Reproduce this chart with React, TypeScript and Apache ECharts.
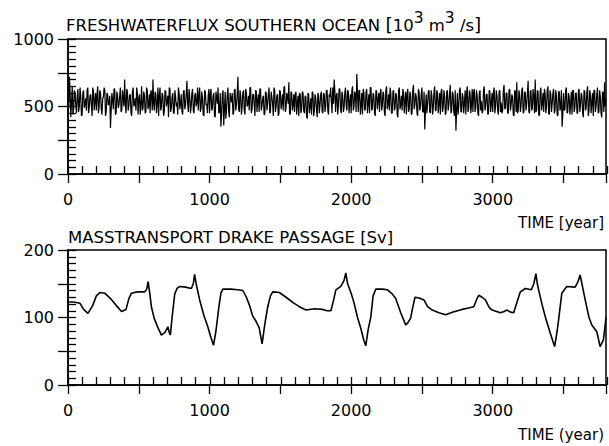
import React, { useEffect, useRef } from "react";
import * as echarts from "echarts";

// ---- Data ----
const topTitle = "FRESHWATERFLUX SOUTHERN OCEAN";
const bottomTitle = "MASSTRANSPORT DRAKE PASSAGE [Sv]";
const xLabelTop = "TIME [year]";
const xLabelBottom = "TIME (year)";

const xMin = 0;
const xMax = 3800;

// Freshwater flux: values at years 0,10,20,... and at 5,15,25,...
const freshStep = 10;
const freshValues = [
  560, 720, 420, 650, 480, 600, 450, 630, 500, 580, 440, 620, 520, 470, 640, 490, 590, 430, 610, 540,
  470, 650, 500, 600, 440, 570, 620, 460, 590, 520, 340, 600, 480, 630, 450, 580, 510, 640, 470, 560,
  700, 450, 610, 500, 590, 430, 640, 520, 470, 600, 560, 440, 650, 490, 580, 460, 620, 510, 450, 600,
  700, 470, 590, 520, 430, 640, 500, 580, 460, 610, 540, 420, 630, 490, 600, 450, 570, 530, 640, 480,
  590, 440, 620, 510, 690, 460, 580, 500, 630, 450, 600, 530, 470, 640, 490, 560, 430, 610, 520, 580,
  450, 630, 490, 600, 420, 570, 640, 460, 350, 590, 360, 610, 480, 640, 420, 560, 600, 450, 630, 510,
  720, 460, 580, 500, 620, 440, 600, 520, 470, 640, 480, 590, 430, 610, 550, 460, 630, 500, 580, 440,
  600, 520, 640, 460, 570, 430, 620, 500, 590, 450, 610, 530, 470, 650, 490, 580, 680, 440, 600, 510,
  460, 610, 520, 430, 590, 480, 600, 450, 570, 410, 590, 500, 440, 600, 470, 560, 420, 580, 510, 610,
  450, 590, 500, 620, 440, 570, 530, 640, 700, 460, 600, 510, 630, 450, 580, 490, 640, 470, 610, 530,
  450, 650, 500, 590, 740, 460, 620, 510, 440, 600, 480, 630, 520, 450, 640, 490, 580, 430, 610, 550,
  460, 630, 500, 590, 430, 650, 520, 470, 600, 450, 620, 490, 580, 420, 640, 510, 470, 600, 540, 440,
  630, 480, 590, 450, 660, 510, 570, 430, 610, 500, 640, 460, 330, 590, 520, 620, 450, 580, 490, 650,
  470, 600, 520, 440, 630, 490, 580, 450, 620, 510, 660, 470, 590, 430, 320, 600, 500, 640, 460, 570,
  520, 440, 650, 480, 600, 510, 460, 630, 490, 580, 430, 620, 540, 470, 650, 500, 590, 450, 610, 520,
  460, 640, 500, 580, 440, 620, 530, 470, 660, 490, 600, 450, 630, 510, 570, 430, 610, 680, 470, 590,
  500, 640, 460, 600, 520, 690, 450, 620, 490, 580, 700, 470, 610, 430, 640, 520, 460, 600, 500, 650,
  440, 590, 520, 630, 470, 580, 430, 610, 500, 350, 600, 480, 640, 460, 570, 520, 440, 620, 490, 600,
  450, 630, 510, 580, 420, 610, 490, 650, 470, 590, 530, 430, 620, 500, 640, 460, 570, 420, 600, 680,
  560,
];
const freshValuesMid = [
  480, 600, 530, 440, 620, 510, 570, 460, 640, 430, 600, 490, 560, 620, 450, 580, 510, 640, 470, 600,
  590, 450, 620, 480, 560, 640, 430, 600, 510, 580, 470, 550, 630, 440, 610, 490, 580, 460, 620, 500,
  520, 630, 470, 580, 450, 610, 500, 560, 640, 440, 590, 520, 470, 610, 450, 640, 480, 590, 620, 470,
  520, 610, 450, 640, 580, 470, 600, 430, 620, 500, 580, 640, 460, 570, 450, 620, 500, 440, 600, 520,
  460, 610, 480, 590, 520, 630, 450, 600, 470, 580, 500, 640, 590, 460, 610, 440, 620, 510, 450, 630,
  600, 470, 580, 430, 610, 520, 450, 600, 440, 620, 480, 410, 590, 460, 600, 530, 440, 620, 470, 590,
  480, 620, 440, 600, 470, 630, 500, 580, 640, 450, 590, 520, 620, 460, 590, 630, 470, 560, 440, 610,
  470, 590, 450, 610, 520, 640, 460, 580, 430, 620, 480, 590, 640, 460, 600, 520, 450, 610, 470, 590,
  590, 440, 580, 600, 450, 610, 470, 580, 430, 600, 450, 560, 610, 430, 590, 480, 600, 450, 590, 460,
  600, 460, 620, 470, 590, 640, 450, 520, 610, 580, 440, 630, 480, 610, 460, 600, 510, 620, 450, 590,
  620, 470, 610, 460, 590, 620, 440, 600, 630, 470, 610, 450, 590, 640, 470, 600, 450, 620, 480, 600,
  600, 470, 610, 450, 620, 480, 590, 640, 450, 610, 470, 600, 440, 620, 480, 580, 630, 450, 610, 590,
  460, 610, 440, 620, 480, 600, 450, 630, 470, 590, 460, 610, 470, 450, 610, 460, 620, 440, 610, 470,
  620, 450, 600, 610, 460, 620, 440, 610, 470, 590, 450, 610, 460, 620, 470, 440, 620, 460, 600, 450,
  620, 600, 460, 620, 450, 630, 610, 460, 620, 450, 600, 470, 450, 620, 470, 590, 440, 620, 460, 600,
  610, 450, 620, 470, 610, 460, 450, 620, 480, 600, 450, 620, 470, 590, 440, 620, 460, 450, 620, 460,
  620, 450, 610, 470, 600, 460, 610, 470, 630, 450, 460, 620, 440, 610, 470, 600, 630, 450, 620, 450,
  620, 460, 600, 450, 620, 440, 610, 470, 620, 440, 470, 620, 450, 600, 440, 610, 620, 460, 600, 450,
  610, 460, 600, 450, 620, 470, 610, 430, 620, 450, 600, 620, 460, 590, 450, 620, 450, 610, 460, 500,
];

// Drake Passage mass transport
const driftYears = [
  0, 40, 85, 110, 141, 175, 200, 225, 260, 300, 340, 378, 410, 430, 448, 490, 542, 556, 566, 578,
  589, 610, 635, 660, 685, 700, 706, 715, 723, 735, 754, 770, 789, 830, 871, 885, 894, 905, 930, 960,
  988, 1010, 1028, 1045, 1066, 1080, 1094, 1150, 1200, 1235, 1260, 1282, 1305, 1329, 1350, 1371, 1390, 1411, 1430, 1446,
  1493, 1540, 1590, 1634, 1681, 1740, 1798, 1830, 1857, 1875, 1892, 1927, 1950, 1962, 1975, 2000, 2021, 2045, 2068, 2090,
  2103, 2120, 2139, 2155, 2174, 2220, 2256, 2290, 2315, 2350, 2385, 2400, 2420, 2435, 2451, 2480, 2514, 2540, 2573, 2620,
  2667, 2720, 2784, 2830, 2866, 2885, 2901, 2925, 2948, 2975, 2995, 3054, 3080, 3101, 3125, 3148, 3170, 3195, 3230, 3273,
  3290, 3305, 3315, 3324, 3350, 3371, 3406, 3437, 3455, 3465, 3488, 3523, 3582, 3600, 3617, 3635, 3653, 3680, 3700, 3735,
  3758, 3782, 3800,
];
const driftValues = [
  123, 123, 121, 112, 106, 118, 132, 137, 136, 128, 118, 109, 112, 128, 136, 138, 138, 142, 153, 135,
  116, 98, 85, 74, 78, 84, 86, 78, 74, 100, 135, 143, 146, 145, 143, 150, 164, 150, 126, 103,
  86, 70, 59, 80, 116, 136, 142, 142, 141, 140, 130, 118, 102, 94, 85, 61, 90, 116, 132, 138,
  137, 130, 122, 116, 111, 113, 112, 110, 110, 125, 141, 146, 155, 166, 150, 136, 121, 100, 84, 66,
  58, 82, 101, 132, 142, 142, 141, 135, 128, 107, 89, 92, 99, 115, 130, 129, 126, 116, 111, 107,
  104, 108, 112, 114, 116, 126, 133, 130, 126, 115, 111, 107, 109, 111, 108, 107, 122, 138, 143, 141,
  150, 165, 150, 141, 118, 101, 77, 57, 80, 96, 136, 146, 145, 152, 163, 145, 126, 100, 89, 79,
  57, 67, 100,
];

const topY = { min: 0, max: 1000, major: 250, label: 500, minor: 50 };
const bottomY = { min: 0, max: 200, major: 50, label: 100, minor: 10 };

const FONT = "DejaVu Sans";

export default function App() {
  const ref = useRef<HTMLDivElement>(null);
  useEffect(() => {
    if (!ref.current) return;
    const chart = echarts.init(ref.current, undefined, { renderer: "svg" });

    const freshData: number[][] = [];
    freshValues.forEach((v, i) => {
      freshData.push([xMin + i * freshStep, v]);
      if (i < freshValuesMid.length) freshData.push([xMin + i * freshStep + freshStep / 2, freshValuesMid[i]]);
    });
    const driftData = driftYears.map((y, i) => [y, driftValues[i]]);

    const gridBase = { left: 68, width: 539, height: 135 };
    const tops = [39, 250];

    const grids: any[] = [];
    tops.forEach((t) => {
      grids.push({ ...gridBase, top: t, show: true, borderColor: "#000", borderWidth: 1.5, backgroundColor: "transparent" });
      grids.push({ ...gridBase, top: t });
    });

    const xAxes: any[] = [];
    const yAxes: any[] = [];
    [topY, bottomY].forEach((yc, p) => {
      const gMain = p * 2;
      const gMinor = p * 2 + 1;
      xAxes.push({
        type: "value",
        gridIndex: gMain,
        min: xMin,
        max: xMax,
        interval: 500,
        splitLine: { show: false },
        axisLine: { show: true, lineStyle: { color: "#000", width: 1.5 } },
        axisTick: { show: true, inside: false, length: 9, lineStyle: { color: "#000", width: 1.3 } },
        axisLabel: {
          show: true,
          margin: 17,
          color: "#000",
          fontFamily: FONT,
          fontSize: 16,
          formatter: (v: number) => (v % 1000 === 0 && v < xMax ? String(v) : ""),
        },
      });
      xAxes.push({
        type: "value",
        gridIndex: gMinor,
        min: xMin,
        max: xMax,
        interval: 100,
        splitLine: { show: false },
        axisLine: { show: false },
        axisTick: { show: true, inside: true, length: 8, lineStyle: { color: "#000", width: 1.3 } },
        axisLabel: { show: false },
      });
      yAxes.push({
        type: "value",
        gridIndex: gMain,
        min: yc.min,
        max: yc.max,
        interval: yc.major,
        splitLine: { show: false },
        axisLine: { show: true, lineStyle: { color: "#000", width: 1.5 } },
        axisTick: { show: true, inside: false, length: 10, lineStyle: { color: "#000", width: 1.3 } },
        axisLabel: {
          show: true,
          margin: 14,
          color: "#000",
          fontFamily: FONT,
          fontSize: 16,
          formatter: (v: number) => (v % yc.label === 0 ? String(v) : ""),
        },
      });
      yAxes.push({
        type: "value",
        gridIndex: gMinor,
        min: yc.min,
        max: yc.max,
        interval: yc.minor,
        splitLine: { show: false },
        axisLine: { show: false },
        axisTick: { show: true, inside: true, length: 8, lineStyle: { color: "#000", width: 1.3 } },
        axisLabel: { show: false },
      });
    });

    const rich = {
      n: { fontFamily: FONT, fontSize: 16.5, color: "#000", verticalAlign: "bottom" },
      b: { fontFamily: FONT, fontSize: 18.5, color: "#000", verticalAlign: "bottom" },
      s: { fontFamily: FONT, fontSize: 15.5, color: "#000", padding: [0, 0, 8, 0], verticalAlign: "bottom" },
    };

    chart.setOption({
      animation: false,
      backgroundColor: "#fff",
      grid: grids,
      xAxis: xAxes,
      yAxis: yAxes,
      series: [
        {
          type: "line",
          xAxisIndex: 0,
          yAxisIndex: 0,
          data: freshData,
          showSymbol: false,
          lineStyle: { color: "#000", width: 1.2 },
          silent: true,
        },
        {
          type: "line",
          xAxisIndex: 2,
          yAxisIndex: 2,
          data: driftData,
          showSymbol: false,
          lineStyle: { color: "#000", width: 1.6 },
          silent: true,
        },
      ],
      graphic: [
        {
          type: "text",
          x: 66,
          y: 34,
          style: {
            text: `{n|${topTitle} }{b|[}{n|10}{s|3}{n| m}{s|3}{n| /s}{b|]}`,
            rich,
            verticalAlign: "bottom",
            fill: "#000",
          },
        },
        {
          type: "text",
          x: 68,
          y: 237,
          style: { text: bottomTitle, fontFamily: FONT, fontSize: 16.5, fill: "#000", verticalAlign: "middle" },
        },
        {
          type: "text",
          x: 604,
          y: 223,
          style: { text: xLabelTop, fontFamily: FONT, fontSize: 15, fill: "#000", align: "right", verticalAlign: "middle" },
        },
        {
          type: "text",
          x: 604,
          y: 435,
          style: { text: xLabelBottom, fontFamily: FONT, fontSize: 15, fill: "#000", align: "right", verticalAlign: "middle" },
        },
      ],
    });
    return () => chart.dispose();
  }, []);
  return <div ref={ref} style={{ position: "absolute", left: 0, top: 0, width: 609, height: 446 }} />;
}
